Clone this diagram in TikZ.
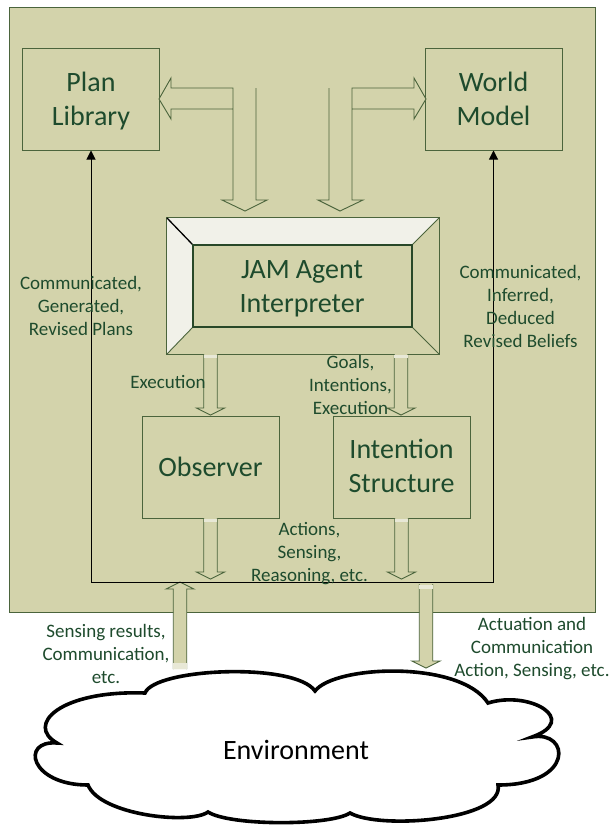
\documentclass[tikz,border=0pt]{standalone}
\usepackage{fontspec}
\setmainfont{Carlito}
\usetikzlibrary{arrows.meta}
\definecolor{panel}{RGB}{211,211,171}
\definecolor{patch}{RGB}{232,232,214}
\definecolor{txt}{RGB}{30,75,45}
\definecolor{edge}{RGB}{75,100,60}
\definecolor{inner}{RGB}{40,72,40}
\definecolor{bevlight}{RGB}{241,241,233}
% down block arrow: x centre, y top, y tip
\newcommand\blkdown[3]{%
  \fill[panel] (#1-6.75,#2) -- (#1-6.75,#3-7) -- (#1-14,#3-7) -- (#1,#3) -- (#1+14,#3-7) -- (#1+6.75,#3-7) -- (#1+6.75,#2) -- cycle;
  \draw[blk] (#1-6.75,#2) -- (#1-6.75,#3-7) -- (#1-14,#3-7) -- (#1,#3) -- (#1+14,#3-7) -- (#1+6.75,#3-7) -- (#1+6.75,#2);}
% up block arrow: x centre, y bottom, y tip
\newcommand\blkup[3]{%
  \fill[panel] (#1-6.75,#2) -- (#1-6.75,#3+7) -- (#1-14,#3+7) -- (#1,#3) -- (#1+14,#3+7) -- (#1+6.75,#3+7) -- (#1+6.75,#2) -- cycle;
  \draw[blk] (#1-6.75,#2) -- (#1-6.75,#3+7) -- (#1-14,#3+7) -- (#1,#3) -- (#1+14,#3+7) -- (#1+6.75,#3+7) -- (#1+6.75,#2);}
\begin{document}
\begin{tikzpicture}[x=1pt,y=-1pt,
  box/.style={draw=edge,line width=1pt,fill=panel,inner sep=0pt,minimum width=137pt,minimum height=102pt},
  big/.style={text=txt,font=\fontsize{28}{34}\selectfont,inner sep=0pt,anchor=base},
  lbl/.style={text=txt,font=\fontsize{19}{23}\selectfont,inner sep=0pt,anchor=base},
  blk/.style={draw=edge,line width=0.9pt,line join=miter},
  loopline/.style={draw=black,line width=1pt}]
\useasboundingbox (0,0) rectangle (612,827);
\fill[white] (0,0) rectangle (612,827);
% panel
\node[draw=edge,line width=1pt,fill=panel,inner sep=0pt,minimum width=585.5pt,minimum height=604.5pt] (panel) at (302.25,309.75) {};
% boxes
\node[box] (plan) at (91,99) {};
\node[box] (world) at (493.5,99) {};
\node[box] (obs) at (210.5,467) {};
\node[box] (intent) at (401.5,467) {};
% JAM bevel box
\node[draw=edge,line width=0.9pt,fill=panel,inner sep=0pt,minimum width=272pt,minimum height=136pt] (jam) at (303,286) {};
\fill[bevlight] (167,218) -- (439,218) -- (412,245) -- (193,245) -- cycle;
\fill[bevlight] (167,218) -- (193,245) -- (193,327) -- (167,354) -- cycle;
\draw[edge,line width=0.9pt] (jam.north west) rectangle (jam.south east);
\draw[edge,line width=0.9pt] (439,218) -- (412,245) (439,354) -- (412,327) (167,354) -- (193,327);
\draw[black,line width=1.3pt] (167,218) -- (193,245);
\node[draw=inner,line width=1.6pt,inner sep=0pt,minimum width=219pt,minimum height=82pt] (jamin) at (302.5,286) {};
% bent block arrows at the top
\fill[panel] (159,99) -- (171,78) -- (171,88) -- (256,88) -- (256,200) -- (267,200) -- (245,211) -- (222,200) -- (233,200) -- (233,109) -- (171,109) -- (171,119) -- cycle;
\draw[blk] (256,88) -- (256,200) -- (267,200) -- (245,211) -- (222,200) -- (233,200) -- (233,88) -- (171,88) -- (171,78) -- (159,99) -- (171,119) -- (171,109) -- (233,109);
\fill[panel] (426,99) -- (414,78) -- (414,88) -- (329,88) -- (329,200) -- (318,200) -- (340,211) -- (363,200) -- (352,200) -- (352,109) -- (414,109) -- (414,119) -- cycle;
\draw[blk] (329,88) -- (329,200) -- (318,200) -- (340,211) -- (363,200) -- (352,200) -- (352,88) -- (414,88) -- (414,78) -- (426,99) -- (414,119) -- (414,109) -- (352,109);
% small block arrows
\blkdown{210.5}{354}{415}
\blkdown{401}{354}{415}
\blkdown{210.5}{518}{579}
\blkdown{401.5}{518}{579}
\blkdown{426}{584}{668}
\blkup{180}{669}{582}
\fill[patch] (203.75,355) rectangle (217.25,358);
\fill[patch] (394.25,355) rectangle (407.75,358);
\fill[patch] (203.75,519) rectangle (217.25,522);
\fill[patch] (394.75,519) rectangle (408.25,522);
\fill[patch] (419.25,585) rectangle (432.75,589);
\fill[patch] (173.25,663) rectangle (186.75,669);
% feedback loop
\coordinate (loopL) at (plan.south |- 0,582);
\coordinate (loopR) at (world.south |- 0,582);
\draw[loopline,-{Triangle[length=9pt,width=9pt]}] (loopR) -- (loopL) -- (plan.south);
\draw[loopline,-{Triangle[length=9pt,width=9pt]}] (loopR) -- (world.south);
% cloud
\draw[line width=3.6pt,fill=white,line join=miter] (145,693) .. controls (155,668) and (295,662) .. (315,691)
 .. controls (335,665) and (460,660) .. (488,703)
 .. controls (530,690) and (580,720) .. (532,737)
 .. controls (570,730) and (575,785) .. (498,785)
 .. controls (505,820) and (380,830) .. (350,813)
 .. controls (330,826) and (230,826) .. (208,812)
 .. controls (190,825) and (100,815) .. (88,785)
 .. controls (30,785) and (20,740) .. (57,743)
 .. controls (25,725) and (60,690) .. cycle;
% texts
\node[big] (planT) at (91,91) {\begin{tabular}[t]{@{}c@{}}Plan\\Library\end{tabular}};
\node[big] (worldT) at (493.5,91) {\begin{tabular}[t]{@{}c@{}}World\\Model\end{tabular}};
\node[big] (jamT) at (302,278) {\begin{tabular}[t]{@{}c@{}}JAM Agent\\Interpreter\end{tabular}};
\node[big] (obsT) at (210.5,476) {Observer};
\node[big] (intentT) at (401.5,458) {\begin{tabular}[t]{@{}c@{}}Intention\\Structure\end{tabular}};
\node[big,text=black] (env) at (296,759) {Environment};
\node[lbl] (lp) at (81,289) {\begin{tabular}[t]{@{}c@{}}Communicated,\\Generated,\\Revised Plans\end{tabular}};
\node[lbl] (rp) at (520.5,278) {\begin{tabular}[t]{@{}c@{}}Communicated,\\Inferred,\\Deduced\\Revised Beliefs\end{tabular}};
\node[lbl] (ex) at (168,388) {Execution};
\node[lbl] (gie) at (350.5,368) {\begin{tabular}[t]{@{}c@{}}Goals,\\Intentions,\\Execution\end{tabular}};
\node[lbl] (asr) at (309.5,535) {\begin{tabular}[t]{@{}c@{}}Actions,\\Sensing,\\Reasoning, etc.\end{tabular}};
\node[lbl] (sr) at (106,637) {\begin{tabular}[t]{@{}c@{}}Sensing results,\\Communication,\\etc.\end{tabular}};
\node[lbl] (ac) at (532,630) {\begin{tabular}[t]{@{}c@{}}Actuation and\\Communication\\Action, Sensing, etc.\end{tabular}};
\end{tikzpicture}
\end{document}
